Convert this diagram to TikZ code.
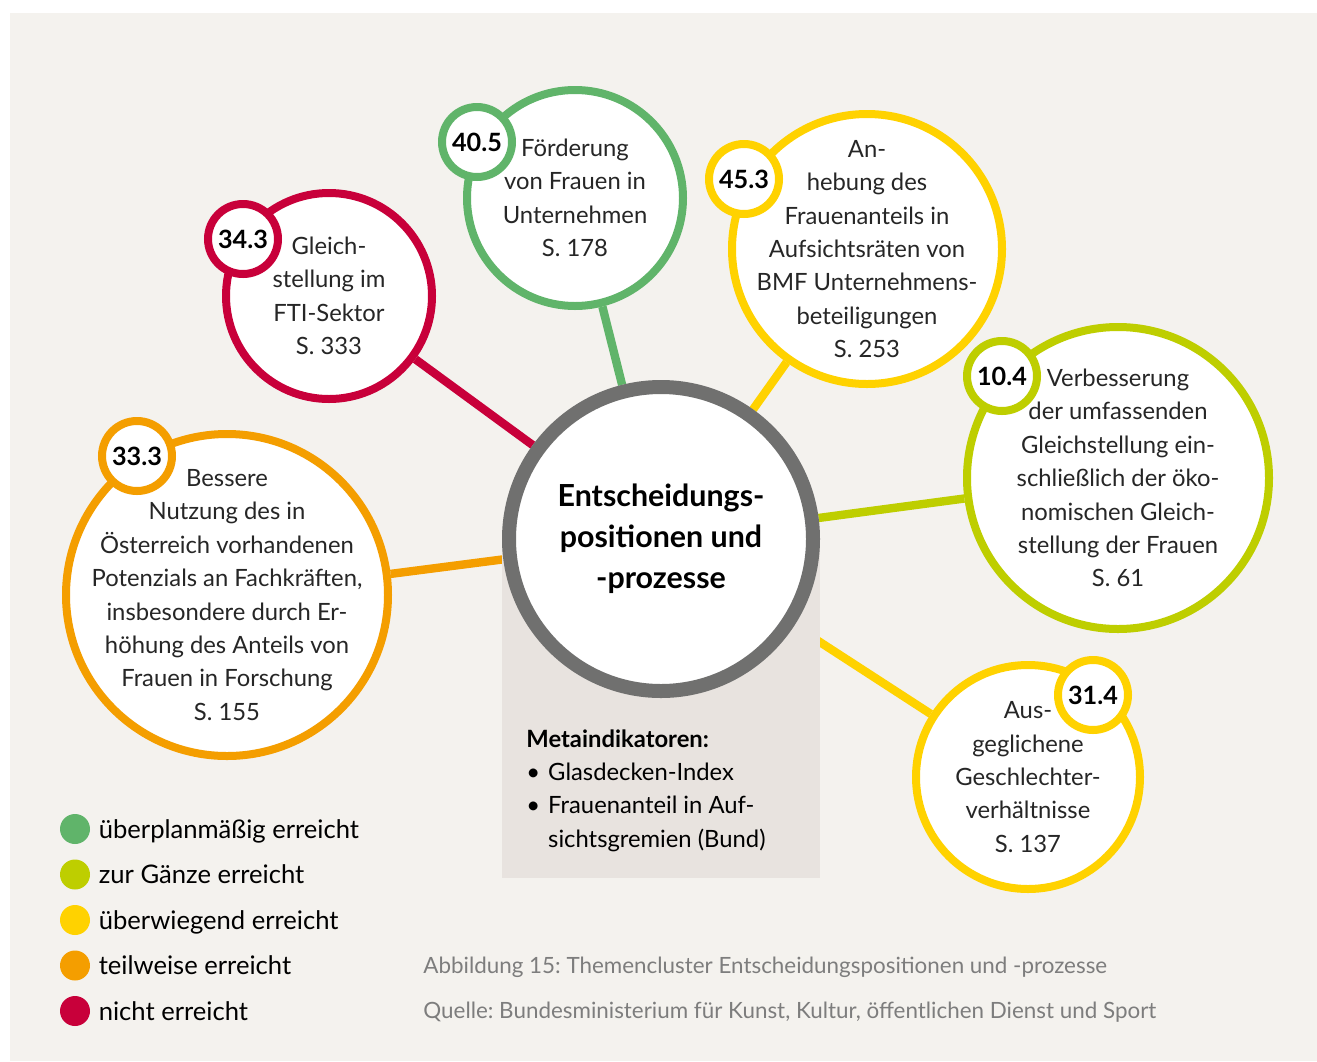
\documentclass[tikz,border=0pt]{standalone}
\usepackage{fontspec}
\setmainfont{Lato}
\usetikzlibrary{positioning}
\usepackage{xcolor}
\definecolor{cgreen}{RGB}{96,180,106}
\definecolor{clime}{RGB}{190,206,0}
\definecolor{cyellow}{RGB}{255,210,0}
\definecolor{corange}{RGB}{244,158,0}
\definecolor{cred}{RGB}{200,0,58}
\definecolor{ringgray}{RGB}{112,112,111}
\definecolor{paper}{RGB}{244,242,238}
\definecolor{boxgray}{RGB}{232,227,223}
\definecolor{capgray}{RGB}{125,125,125}
\pgfdeclarelayer{bg}
\pgfdeclarelayer{links}
\pgfdeclarelayer{box}
\pgfsetlayers{bg,links,box,main}
\def\u{0.5pt}
\frenchspacing

\begin{document}
\begin{tikzpicture}[x=\u,y=-\u]
    \tikzstyle{bubble}=[circle, fill=white, line width=4pt, inner sep=0pt]
    \tikzstyle{badge}=[bubble, minimum size=35pt, font=\fontsize{12.6}{14}\selectfont\bfseries];
    \tikzstyle{bubtext}=[align=center, inner sep=0pt, text=black!85, font=\fontsize{11.9}{16.7}\selectfont];
    \tikzstyle{link}=[line width=4.2pt]
    \tikzstyle{legdot}=[circle, minimum size=15pt, inner sep=0pt]
    \tikzstyle{legtext}=[inner sep=0pt, text height=11pt, text depth=2pt, font=\fontsize{12.8}{14}\selectfont]
    \tikzstyle{caption}=[anchor=base west, inner sep=0pt, text=capgray, font=\fontsize{11.2}{13}\selectfont]

    \useasboundingbox (0,0) rectangle (1317,1061);

    % Paper
    \begin{pgfonlayer}{bg}
        \fill[white] (0,0) rectangle (1317,1061);
        \fill[paper] (10,13) rectangle (1317,1061);
    \end{pgfonlayer}

    % Box below the centre, it covers the links
    \begin{pgfonlayer}{box}
        \fill[boxgray] (502,539) rectangle (820,878);
    \end{pgfonlayer}

    % Draw the centre node
    \node[bubble, draw=ringgray, line width=7pt, minimum size=152pt, align=center,
          font=\fontsize{15.2}{20.5}\selectfont\bfseries] (C) at (661,539)
          {Entscheidungs-\\positionen und\\-prozesse};

    % Draw the topic bubbles
    \foreach \name/\col/\x/\y/\d in {G/cgreen/575/198/216, R/cred/329/296/206,
        Y/cyellow/867/249/270, L/clime/1118/478/302, B/cyellow/1028/777/224,
        O/corange/227/595/322}
        \node[bubble, draw=\col, minimum size=\d*\u] (\name) at (\x,\y) {};

    % Connect every bubble with the centre
    \begin{pgfonlayer}{links}
    \foreach \name/\col in {G/cgreen, R/cred, Y/cyellow, L/clime, B/cyellow, O/corange}
        \draw[link, draw=\col] (C) -- (\name);
    \end{pgfonlayer}

    % Number badges on the rings
    \foreach \name/\col/\x/\y/\val in {G/cgreen/477/142/40.5, R/cred/243/239/34.3,
        Y/cyellow/744/179/45.3, L/clime/1002/376/10.4, B/cyellow/1093/695/31.4,
        O/corange/137/456/33.3}
        \node[badge, draw=\col] (\name-n) at (\x,\y) {\val};

    % Texts of the bubbles
    \node[bubtext] (G-t) at (G) {Förderung\\von Frauen in\\Unternehmen\\S. 178};
    \node[bubtext] (R-t) at (R) {Gleich-\\stellung im\\FTI-Sektor\\S. 333};
    \node[bubtext] (Y-t) at (Y) {An-\\hebung des\\Frauenanteils in\\Aufsichtsräten von\\BMF Unternehmens-\\beteiligungen\\S. 253};
    \node[bubtext] (L-t) at (L) {Verbesserung\\der umfassenden\\Gleichstellung ein-\\schließlich der öko-\\nomischen Gleich-\\stellung der Frauen\\S. 61};
    \node[bubtext] (B-t) at (B) {Aus-\\geglichene\\Geschlechter-\\verhältnisse\\S. 137};
    \node[bubtext] (O-t) at (O) {Bessere\\Nutzung des in\\Österreich vorhandenen\\Potenzials an Fachkräften,\\insbesondere durch Er-\\höhung des Anteils von\\Frauen in Forschung\\S. 155};

    % Meta indicators in the box
    \node[anchor=base west, inner sep=0pt, font=\fontsize{11.9}{16.7}\selectfont] (meta) at (526,747)
        {\begin{tabular}[t]{@{}l@{\hspace{4pt}}l@{}}
            \multicolumn{2}{@{}l}{\bfseries Metaindikatoren:}\\
            \textbullet & Glasdecken-Index\\
            \textbullet & Frauenanteil in Auf-\\
                        & sichtsgremien (Bund)
        \end{tabular}};

    % Legend
    \foreach \col/\txt [count=\i] in {cgreen/überplanmäßig erreicht, clime/zur Gänze erreicht,
        cyellow/überwiegend erreicht, corange/teilweise erreicht, cred/nicht erreicht} {
        \node[legdot, fill=\col] (dot-\i) at (75,{829+45.5*(\i-1)}) {};
        \node[legtext, right=4pt of dot-\i] (leg-\i) {\txt};
    }

    % Caption and source
    \node[caption] (cap) at (423,973) {Abbildung 15: Themencluster Entscheidungspositionen und -prozesse};
    \node[caption] (src) at (423,1018) {Quelle: Bundesministerium für Kunst, Kultur, öffentlichen Dienst und Sport};
\end{tikzpicture}
\end{document}
